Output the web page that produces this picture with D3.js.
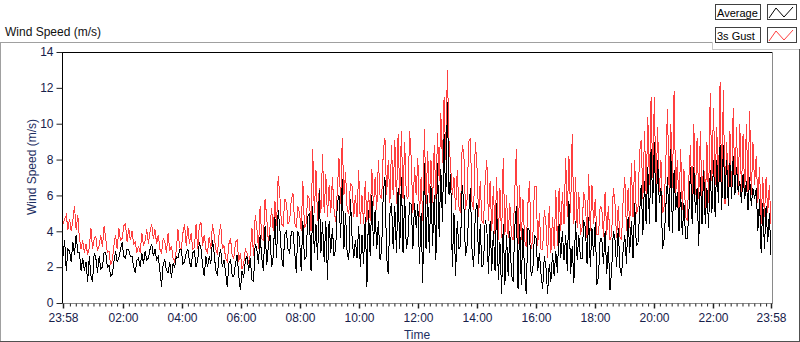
<!DOCTYPE html>
<html>
<head>
<meta charset="utf-8">
<script src="https://cdnjs.cloudflare.com/ajax/libs/d3/7.8.5/d3.min.js"></script>
<style>
  body { margin: 0; background: #fff; }
  svg { display: block; font-family: "Liberation Sans", Arial, sans-serif; }
</style>
</head>
<body>
<svg id="chart" width="800" height="342"></svg>
<script>
// wind speed samples, evenly spaced over 24 h starting at 23:58
const gustSpeed = [
  4.4,4.7,4.9,4.1,4.7,4.0,4.6,5.4,4.1,4.9,3.6,3.0,3.5,2.8,3.3,2.7,3.1,4.2,3.0,3.6,3.7,2.9,3.2,3.8,3.1,4.3,3.6,2.8,2.9,2.1,2.4,3.2,3.8,3.0,4.2,3.5,
  3.6,4.3,4.4,3.4,4.2,3.5,4.0,3.3,3.4,2.8,3.2,2.8,3.9,3.2,3.5,4.1,3.3,4.0,4.4,3.6,4.1,3.3,3.8,3.0,2.8,3.6,3.4,2.8,3.9,2.9,3.2,2.5,2.3,3.0,4.1,3.1,
  3.0,3.9,4.4,3.2,4.3,3.3,3.9,3.0,3.1,4.4,3.0,4.3,4.5,3.2,3.8,3.0,2.8,3.7,3.0,4.4,3.8,3.0,2.7,3.8,4.4,3.0,3.2,2.5,2.3,3.3,3.6,2.6,2.5,3.4,3.5,2.3,
  2.8,1.9,2.2,3.0,2.8,2.2,2.7,4.2,2.6,4.9,4.2,3.0,5.4,3.6,3.5,5.8,4.8,3.4,4.2,5.3,4.0,5.7,4.3,7.1,6.0,4.4,4.3,5.8,5.6,4.4,4.6,5.8,6.1,4.5,4.2,5.4,
  5.0,4.0,6.8,4.2,4.4,6.0,5.8,4.0,8.6,5.0,7.4,4.6,6.4,5.0,8.3,5.0,7.2,4.8,6.6,5.0,7.0,5.2,4.5,6.3,8.1,5.5,9.2,6.0,7.3,5.2,5.0,6.7,6.5,4.8,6.0,4.8,
  7.4,4.4,6.0,4.4,6.8,4.5,6.2,4.6,7.5,5.4,7.0,5.2,8.0,6.0,5.8,8.5,9.2,6.0,8.0,5.6,8.8,6.0,9.1,5.5,9.4,6.0,9.6,5.8,9.0,6.0,5.8,9.6,8.0,5.0,7.6,6.0,
  8.1,4.8,7.0,4.6,9.7,5.5,8.5,5.6,8.0,5.6,8.8,5.8,9.5,6.8,10.6,7.8,11.5,8.0,13.0,9.0,7.6,6.0,7.0,5.2,7.4,5.4,5.0,8.8,8.4,5.2,5.8,9.0,9.2,5.6,5.2,9.0,
  7.6,4.8,6.8,4.6,4.4,6.8,8.0,4.6,6.8,4.0,6.5,3.8,7.0,3.5,6.4,3.6,8.1,3.8,6.0,3.6,5.6,3.8,3.5,6.2,8.6,3.3,6.6,3.5,5.8,3.5,3.1,5.5,6.8,3.0,3.6,6.5,
  6.5,3.2,5.0,3.0,3.0,5.2,4.4,2.5,5.4,2.8,4.8,3.0,6.3,3.2,6.4,4.0,6.2,4.4,8.1,4.8,8.2,5.0,9.4,4.4,7.0,4.2,6.2,3.8,4.2,6.2,5.6,3.6,7.2,4.0,6.6,4.4,
  5.8,3.8,3.8,5.4,5.3,3.7,6.2,3.8,5.4,3.5,3.8,6.4,5.6,3.6,5.4,3.7,3.5,5.8,7.0,4.0,6.4,4.2,7.8,4.8,8.0,5.0,5.2,8.4,9.1,5.8,9.6,6.0,10.4,6.6,11.5,7.0,
  11.5,6.0,9.8,6.2,8.0,5.0,5.4,8.0,10.8,6.2,10.0,6.4,11.8,6.0,8.0,5.2,8.6,5.2,7.5,4.8,4.6,7.0,8.8,5.0,10.0,6.0,9.2,5.8,9.6,5.6,8.0,5.2,9.0,5.6,11.7,6.8,
  10.9,6.6,9.8,6.0,12.3,6.2,11.9,5.5,9.0,6.2,9.6,6.0,10.9,6.2,9.8,6.0,10.0,6.2,9.4,6.0,10.0,6.2,10.7,6.0,9.0,6.6,8.2,5.6,7.6,4.4,7.0,4.8,7.0,5.0,6.6,4.4
];

const avgSpeed = [
  2.6,3.5,1.8,3.0,2.9,2.3,3.4,2.7,3.8,2.8,2.8,1.8,2.5,1.8,2.3,1.2,2.6,1.5,1.2,2.8,2.5,1.7,2.6,1.9,2.0,2.8,2.8,2.0,2.1,1.5,1.6,2.3,2.9,2.3,2.5,3.0,
  3.4,2.6,2.5,3.0,3.0,2.6,2.6,2.0,1.7,2.4,2.5,2.0,2.8,2.2,2.9,2.4,2.5,3.0,3.3,2.6,3.0,2.4,2.6,1.8,0.9,2.2,2.4,1.8,1.7,2.3,1.4,2.2,2.0,2.6,2.5,3.0,
  3.0,2.2,2.3,2.8,3.0,2.3,2.0,2.8,2.9,2.0,2.4,3.4,3.0,2.1,1.5,2.6,2.0,2.6,2.2,3.5,2.8,1.8,1.6,2.6,3.0,2.0,2.4,1.7,0.9,2.2,2.4,1.5,1.5,2.2,2.7,1.5,
  0.7,1.8,1.4,2.4,2.6,1.8,2.5,1.3,1.2,3.3,3.0,2.2,3.8,2.5,1.8,4.3,2.1,3.2,3.8,2.0,2.6,4.8,2.5,5.2,4.2,2.6,2.0,3.8,4.0,3.0,2.8,4.0,4.0,2.9,1.7,4.0,
  3.6,1.8,4.6,2.4,2.6,4.8,5.0,1.8,5.4,2.8,4.4,2.4,6.3,2.8,4.5,2.3,4.6,1.3,4.6,2.8,4.2,2.6,3.0,5.6,6.0,3.6,6.9,3.0,5.0,2.7,2.4,5.8,3.6,2.5,3.5,2.5,
  4.3,2.0,3.8,2.2,4.8,0.9,5.2,2.6,6.0,3.2,5.2,3.0,4.6,2.4,3.0,6.2,7.0,2.6,1.6,5.0,5.6,3.0,5.4,2.8,6.4,3.0,7.0,2.8,6.0,3.0,3.6,5.6,5.5,3.0,5.6,4.2,
  5.5,2.2,5.0,1.1,7.8,3.0,6.0,2.8,6.5,3.2,6.0,2.4,7.8,3.7,7.5,4.5,9.4,5.5,11.2,6.0,7.2,2.0,5.0,1.5,4.6,3.0,3.2,6.6,5.6,2.6,3.2,5.0,6.4,3.0,2.0,5.0,
  5.6,2.2,4.4,2.0,2.2,4.6,4.2,1.6,4.6,1.8,4.0,1.8,5.6,1.3,3.4,0.5,4.4,1.0,3.8,1.5,4.0,1.6,1.2,4.2,5.4,0.8,4.4,1.0,4.2,1.6,0.5,4.2,4.0,1.5,1.8,3.8,
  3.6,1.8,2.8,1.6,0.8,2.6,2.0,0.5,2.2,1.2,2.8,1.5,2.9,1.7,4.4,2.5,4.0,2.4,3.8,1.8,5.7,1.6,3.2,1.1,4.6,2.4,3.8,2.5,2.5,4.6,4.2,2.2,4.8,2.0,4.2,2.6,
  4.5,1.0,1.5,3.6,3.6,2.2,4.0,1.6,3.2,0.7,1.8,4.0,3.6,2.0,4.2,2.0,1.5,3.0,3.8,2.2,4.8,2.8,4.6,2.5,5.6,3.2,3.3,5.0,6.6,3.8,6.8,4.4,7.6,4.4,8.6,5.5,
  9.0,4.5,8.0,5.6,6.4,3.0,3.6,5.4,7.0,4.0,8.6,3.9,7.4,5.2,6.2,4.0,6.2,3.8,5.6,3.6,3.6,5.0,7.6,4.4,7.6,5.0,6.4,3.2,7.0,4.4,7.4,4.4,6.4,4.2,7.4,5.0,
  8.0,4.8,8.0,5.6,8.8,5.2,8.8,5.8,8.0,5.4,7.8,5.8,8.2,6.0,7.6,6.2,6.8,5.6,7.2,5.8,6.8,5.2,7.0,5.4,6.4,5.8,6.4,4.0,5.8,2.8,5.6,3.0,5.4,3.4,5.0,2.7
];

const spanMinutes = 1440;
const tickMinutes = [0, 122, 242, 362, 482, 602, 722, 842, 962, 1082, 1202, 1322, 1440];
const tickLabels = ["23:58", "02:00", "04:00", "06:00", "08:00", "10:00", "12:00",
                    "14:00", "16:00", "18:00", "20:00", "22:00", "23:58"];
const yTickValues = [0, 2, 4, 6, 8, 10, 12, 14];
const seriesNames = ["Average", "3s Gust"];
const seriesColors = ["#000000", "#ff3f3f"];

const svg = d3.select("#chart");
const plotLeft = 62, plotRight = 772, plotTop = 52, plotBottom = 303;
const labelColor = "#17204a";

const x = d3.scaleLinear().domain([0, spanMinutes]).range([63, 771]);
const y = d3.scaleLinear().domain([0, 14]).range([plotBottom, plotTop]);

// outer panel edges
svg.append("line").attr("x1", 0).attr("x2", 712.5).attr("y1", 42.5).attr("y2", 42.5).attr("stroke", "#a0a0a0");
svg.append("line").attr("x1", 0.5).attr("x2", 0.5).attr("y1", 42).attr("y2", 342).attr("stroke", "#a0a0a0");
svg.append("line").attr("x1", 712.5).attr("x2", 712.5).attr("y1", 42).attr("y2", 49.5).attr("stroke", "#c8c8c8");
svg.append("line").attr("x1", 712).attr("x2", 800).attr("y1", 49.5).attr("y2", 49.5).attr("stroke", "#c8c8c8");
svg.append("line").attr("x1", 799.5).attr("x2", 799.5).attr("y1", 49).attr("y2", 342).attr("stroke", "#505050");
svg.append("line").attr("x1", 0).attr("x2", 800).attr("y1", 341.5).attr("y2", 341.5).attr("stroke", "#505050");

svg.append("text").attr("x", 5).attr("y", 36)
  .attr("font-size", 12).attr("fill", "#111").text("Wind Speed (m/s)");

// plot lines (gust under average)
const line = d3.line()
  .x((d, i, arr) => x(i * spanMinutes / (arr.length - 1)))
  .y(d => y(d));

const plot = svg.append("g");
plot.append("path").datum(gustSpeed)
  .attr("fill", "none").attr("stroke", seriesColors[1]).attr("stroke-width", 1)
  .attr("shape-rendering", "crispEdges").attr("d", line);
plot.append("path").datum(avgSpeed)
  .attr("fill", "none").attr("stroke", seriesColors[0]).attr("stroke-width", 1)
  .attr("shape-rendering", "crispEdges").attr("d", line);

// plot frame
svg.append("line").attr("x1", plotLeft + 0.5).attr("x2", plotRight).attr("y1", plotTop + 0.5).attr("y2", plotTop + 0.5).attr("stroke", "#000");
svg.append("line").attr("x1", plotLeft + 0.5).attr("x2", plotLeft + 0.5).attr("y1", plotTop).attr("y2", plotBottom + 1).attr("stroke", "#000");
svg.append("line").attr("x1", plotLeft).attr("x2", plotRight + 1).attr("y1", plotBottom + 0.5).attr("y2", plotBottom + 0.5).attr("stroke", "#8a8a8a");
svg.append("line").attr("x1", plotRight + 0.5).attr("x2", plotRight + 0.5).attr("y1", plotTop).attr("y2", plotBottom + 1).attr("stroke", "#8a8a8a");

// y axis
const yAxis = svg.append("g")
  .attr("transform", `translate(${plotLeft + 0.5},0)`)
  .call(d3.axisLeft(y).tickValues(yTickValues).tickSize(6).tickPadding(3));
yAxis.select(".domain").remove();
yAxis.selectAll("line").attr("stroke", "#222");
yAxis.selectAll("text").attr("font-family", "Liberation Sans, Arial, sans-serif")
  .attr("font-size", 12).attr("fill", labelColor);

// x axis minor ticks every 12 minutes
const minor = d3.range(14, spanMinutes, 12).filter(m => !tickMinutes.some(t => Math.abs(t - m) < 3));
const xMinor = svg.append("g")
  .attr("transform", `translate(0,${plotBottom + 0.5})`)
  .call(d3.axisBottom(x).tickValues(minor).tickSize(3).tickFormat(""));
xMinor.select(".domain").remove();
xMinor.selectAll("line").attr("stroke", "#222");

const xAxis = svg.append("g")
  .attr("transform", `translate(0,${plotBottom + 0.5})`)
  .call(d3.axisBottom(x).tickValues(tickMinutes).tickSize(5).tickPadding(5)
    .tickFormat((d, i) => tickLabels[i]));
xAxis.select(".domain").remove();
xAxis.selectAll("line").attr("stroke", "#222").attr("stroke-width", 1.5);
xAxis.selectAll("text").attr("font-family", "Liberation Sans, Arial, sans-serif")
  .attr("font-size", 12).attr("fill", labelColor);

// axis titles
svg.append("text")
  .attr("transform", "translate(36,167) rotate(-90)")
  .attr("text-anchor", "middle").attr("font-size", 12).attr("fill", "#1e2f62")
  .text("Wind Speed (m/s)");
svg.append("text")
  .attr("x", 417).attr("y", 339).attr("text-anchor", "middle")
  .attr("font-size", 12).attr("fill", "#1e2f62").text("Time");

// legend
const legend = svg.append("g");
seriesNames.forEach((name, i) => {
  const top = 4 + i * 23;
  legend.append("rect").attr("x", 715.5).attr("y", top + 0.5).attr("width", 45).attr("height", 15)
    .attr("fill", "#fff").attr("stroke", "#404040");
  legend.append("text").attr("x", 717).attr("y", top + 12.5)
    .attr("font-size", 11).attr("fill", "#000").text(name);
  legend.append("rect").attr("x", 767.5).attr("y", top + 0.5).attr("width", 29).attr("height", 15)
    .attr("fill", "#fff").attr("stroke", "#404040");
  legend.append("polyline")
    .attr("points", [[769, top + 14], [776, top + 4], [784, top + 13], [793, top + 3]].map(p => p.join(",")).join(" "))
    .attr("fill", "none").attr("stroke", seriesColors[i]).attr("stroke-width", 1);
});
</script>
</body>
</html>
